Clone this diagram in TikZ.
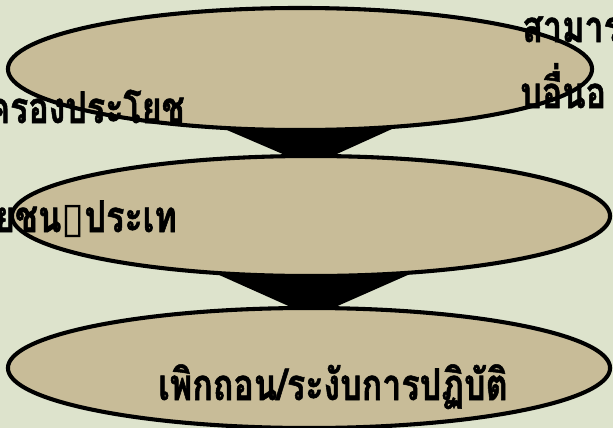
\documentclass[tikz,border=0pt]{standalone}
\usepackage{fontspec}
\newfontfamily\thaifont[Script=Thai, FakeStretch=0.78, BoldFeatures={FakeBold=1.2}]{Loma}
\newfontfamily\symbfont{DejaVu Sans}
\usetikzlibrary{shapes.geometric, calc, backgrounds}
\definecolor{sagebg}{HTML}{DDE3CC}
\definecolor{tanfill}{HTML}{C8BC98}
\pgfdeclarelayer{canvas}
\pgfsetlayers{canvas,background,main}

\begin{document}
\begin{tikzpicture}[x=0.025cm, y=-0.025cm,
    disc/.style={ellipse, draw=black, line width=2.9pt, fill=tanfill,
                 inner sep=0pt, outer sep=0pt},
    funnel/.style={fill=black},
    lbl/.style={font=\thaifont\bfseries\fontsize{31}{36}\selectfont,
                text=black, inner sep=0pt}
  ]
    \useasboundingbox (0,0) rectangle (613,428);
    \begin{pgfonlayer}{canvas}
      \fill[sagebg] (0,0) rectangle (613,428);
    \end{pgfonlayer}

    \node[disc, minimum width=14.6cm, minimum height=3.05cm] (e1) at (300,69) {};
    \node[disc, minimum width=14.95cm, minimum height=3.0cm] (e2) at (311,216) {};
    \node[disc, minimum width=15.05cm, minimum height=3.0cm] (e3) at (309,368) {};

    % funnels behind the ellipses
    \begin{pgfonlayer}{background}
      \fill[funnel] ($(e1.south)+(-87,-6)$) -- ($(e1.south)+(103,-6)$)
        -- ($(e2.north)+(17,2)$) -- ($(e2.north)+(-19,2)$) -- cycle;
      \fill[funnel] ($(e2.south)+(-94,-2)$) -- ($(e2.south)+(99,-2)$)
        -- ($(e3.north)+(24,0)$) -- ($(e3.north)+(-16,0)$) -- cycle;
    \end{pgfonlayer}

    \node[lbl, anchor=base west] (t1) at (522,42) {สามาร};
    \node[lbl, anchor=base west] (t2) at (520,108) {บอื่นอ};
    \node[lbl, anchor=base east] (t3) at (185,123) {ครองประโยช};
    \node[lbl, anchor=base east] (t4) at (177,232) {ยชน{\mdseries\symbfont\fontsize{30}{34}\selectfont ▯}ประเท};
    \node[lbl, anchor=base] (t5) at (333,400) {เพิกถอน/ระงับการปฏิบัติ};
  \end{tikzpicture}
\end{document}
